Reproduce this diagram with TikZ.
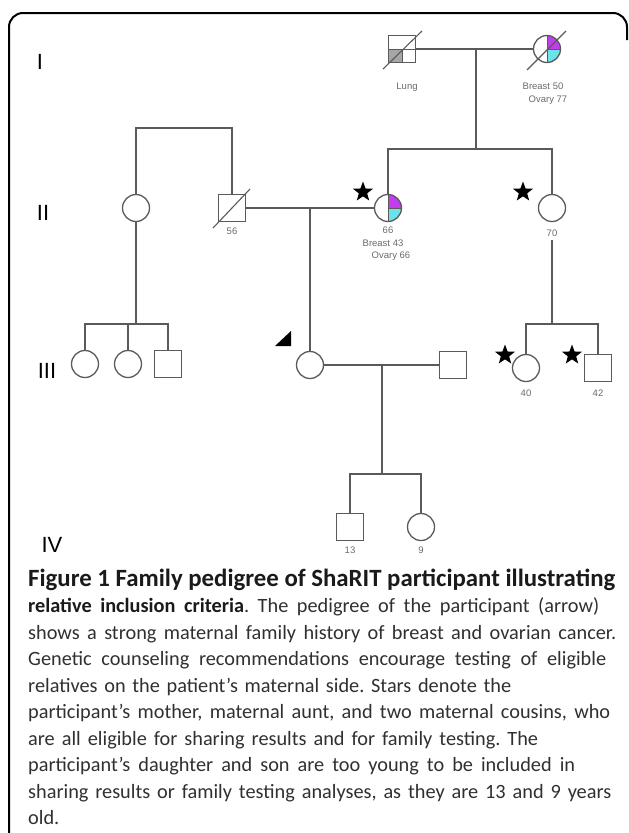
\documentclass[tikz,border=0pt]{standalone}
\usepackage{fontspec}
\setmainfont{Carlito}
\newfontfamily\arialf{Liberation Sans}
\usetikzlibrary{shapes.geometric,calc}
\definecolor{lg}{HTML}{5A5A5A}
\definecolor{lbl}{HTML}{6A6A6A}
\definecolor{mag}{HTML}{C43CF0}
\definecolor{cy}{HTML}{6CE3EA}
\definecolor{capt}{HTML}{303030}
\definecolor{captb}{HTML}{1A1A1A}
\frenchspacing
\tikzset{
  male/.style={draw=lg, line width=1.3pt, rectangle, minimum size=27pt, inner sep=0pt},
  female/.style={draw=lg, line width=1.3pt, circle, minimum size=27pt, inner sep=0pt},
  conn/.style={draw=lg, line width=1.2pt},
  slash/.style={draw=lg, line width=1.1pt},
  lab/.style={font=\arialf\fontsize{9.5}{11}\selectfont, text=lbl, inner sep=0pt},
  gen/.style={font=\arialf\fontsize{22}{24}\selectfont, inner sep=0pt},
  starm/.style={star, star points=5, star point ratio=2.4, fill=black, minimum size=21pt, inner sep=0pt},
  capline/.style={anchor=base west, inner sep=0pt, text=capt, font=\fontsize{20.3}{24}\selectfont\frenchspacing},
}
\newcommand\capfit[2]{\makebox[#1pt][s]{#2}}
\begin{document}
\begin{tikzpicture}[x=1pt,y=-1pt]
\useasboundingbox (0,0) rectangle (629,833);
% frame
\draw[line width=2pt, rounded corners=14pt] (9,840) -- (9,13) -- (627,13) -- (627,40);

% generation labels
\node[gen] (gI) at (40,62) {I};
\node[gen] (gII) at (43,213) {II};
\node[gen] (gIII) at (47,371) {III};
\node[gen] (gIV) at (52,545) {IV};

% quadrant fills (y axis points down: angle -90 is up, 90 is down)
\fill[gray!70] (388.5,49) rectangle (402,62.5);
\fill[mag] (547,49) -- (547,35.5) arc[start angle=-90, end angle=0, radius=13.5] -- cycle;
\fill[cy] (547,49) -- (560.5,49) arc[start angle=0, end angle=90, radius=13.5] -- cycle;
\fill[mag] (388,208) -- (388,194.5) arc[start angle=-90, end angle=0, radius=13.5] -- cycle;
\fill[cy] (388,208) -- (401.5,208) arc[start angle=0, end angle=90, radius=13.5] -- cycle;

% generation I
\node[male] (I1) at (402,49) {};
\node[female] (I2) at (547,49) {};
\draw[lg, line width=1pt] (I1.west) -- (I1.east) (402,49) -- (I1.south);
\draw[lg, line width=1pt] (I2.north) -- (I2.south) (547,49) -- (I2.east);
\draw[slash] ($(I1.center)+(-19,20)$) -- ($(I1.center)+(20,-18)$);
\draw[slash] ($(I2.center)+(-20,21)$) -- ($(I2.center)+(19,-18)$);
\node[lab] (lung) at (407,87) {Lung};
\node[lab] (b50) at (543,86) {Breast 50};
\node[lab] (o77) at (548,100) {Ovary 77};

% generation II
\node[female] (II1) at (136,208) {};
\node[male] (II2) at (232,208) {};
\node[female] (II3) at (388,208) {};
\node[female] (II4) at (552,208) {};
\draw[lg, line width=1pt] (II3.north) -- (II3.south) (388,208) -- (II3.east);
\draw[slash] ($(II2.center)+(-19,20)$) -- ($(II2.center)+(18,-19)$);
\node[lab] (l56) at (232,231) {56};
\node[lab] (l66) at (388,230) {66};
\node[lab] (b43) at (383,243) {Breast 43};
\node[lab] (o66) at (391,256) {Ovary 66};
\node[lab] (l70) at (552,233) {70};
\node[starm] (st1) at (363,192) {};
\node[starm] (st2) at (523,192) {};

% generation III
\node[female] (III1) at (85,364) {};
\node[female] (III2) at (128,364) {};
\node[male] (III3) at (168,364) {};
\node[female] (III4) at (310,365) {};
\node[male] (III5) at (453,365) {};
\node[female] (III6) at (526,368) {};
\node[male] (III7) at (598,368) {};
\node[lab] (l40) at (526,393) {40};
\node[lab] (l42) at (598,393) {42};
\node[starm] (st3) at (505,355) {};
\node[starm] (st4) at (572,355) {};
\fill[black] (291,331) -- (275,346) -- (291,346) -- cycle;

% generation IV
\node[male] (IV1) at (350,527) {};
\node[female] (IV2) at (421,527) {};
\node[lab] (l13) at (350,550) {13};
\node[lab] (l9) at (421,550) {9};

% connectors
\coordinate (m1) at (476,49);
\coordinate (s1m) at (476,149);
\coordinate (s1l) at (388,149);
\coordinate (s1r) at (552,149);
\draw[conn] (I1) -- (I2);
\draw[conn] (m1) -- (s1m);
\draw[conn] (II3) -- (s1l) -- (s1r) -- (II4);

\coordinate (s2l) at (136,128);
\coordinate (s2r) at (232,128);
\draw[conn] (II1) -- (s2l) -- (s2r) -- (II2);
\draw[conn] (II2) -- (II3);
\coordinate (m2) at (310,208);
\draw[conn] (m2) -- (III4);

\coordinate (s3m) at (136,324);
\coordinate (s3l) at (85,324);
\coordinate (s3c) at (128,324);
\coordinate (s3r) at (168,324);
\draw[conn] (II1) -- (s3m);
\draw[conn] (III1) -- (s3l) -- (s3r) -- (III3);
\draw[conn] (s3c) -- (III2);

\coordinate (a70) at (552,240);
\coordinate (s4m) at (552,324);
\coordinate (s4l) at (526,324);
\coordinate (s4r) at (598,324);
\draw[conn] (a70) -- (s4m);
\draw[conn] (III6) -- (s4l) -- (s4r) -- (III7);

\draw[conn] (III4) -- (III5);
\coordinate (m3) at (382,365);
\coordinate (s5m) at (382,474);
\coordinate (s5l) at (350,474);
\coordinate (s5r) at (421,474);
\draw[conn] (m3) -- (s5m);
\draw[conn] (IV1) -- (s5l) -- (s5r) -- (IV2);

% caption
\node[capline, text=captb] (c0) at (28,586) {\resizebox{587pt}{!}{\fontsize{20}{24}\selectfont\textbf{Figure 1 Family pedigree of ShaRIT participant illustrating}}};
\node[capline] (c1) at (28,612.5) {\capfit{571}{\textbf{\color{captb}relative inclusion criteria}. The pedigree of the participant (arrow)}};
\node[capline] (c2) at (28,639) {\capfit{588}{shows a strong maternal family history of breast and ovarian cancer.}};
\node[capline] (c3) at (28,665.5) {\capfit{578}{Genetic counseling recommendations encourage testing of eligible}};
\node[capline] (c4) at (28,692) {\capfit{483}{relatives on the patient’s maternal side. Stars denote the}};
\node[capline] (c5) at (28,718.5) {\capfit{582}{participant’s mother, maternal aunt, and two maternal cousins, who}};
\node[capline] (c6) at (28,745) {\capfit{510}{are all eligible for sharing results and for family testing. The}};
\node[capline] (c7) at (28,771.5) {\capfit{547}{participant’s daughter and son are too young to be included in}};
\node[capline] (c8) at (28,798) {\capfit{583}{sharing results or family testing analyses, as they are 13 and 9 years}};
\node[capline] (c9) at (28,824.5) {old.};
\end{tikzpicture}
\end{document}
